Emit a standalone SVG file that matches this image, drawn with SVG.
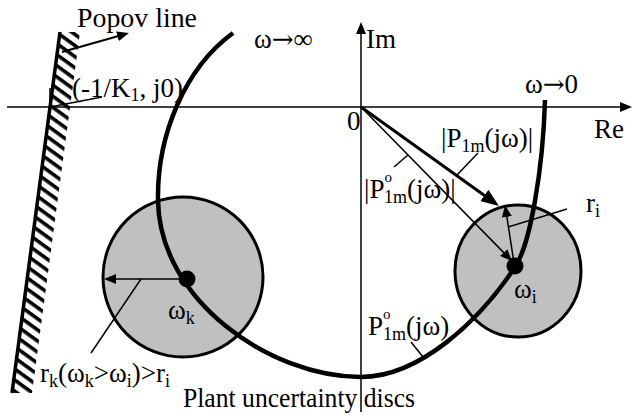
<svg xmlns="http://www.w3.org/2000/svg" width="633" height="418" viewBox="0 0 633 418">
<defs>
<style>
.t{font-family:"Liberation Serif","Times New Roman",serif;font-size:27px;fill:#000}
.s{font-size:18px}
.o{font-size:15px}
.ar{font-family:"DejaVu Serif",serif;font-size:26px}
.ln{stroke:#000;stroke-width:1.5;fill:none}
.disc{fill:#c0c0c0;stroke:#000;stroke-width:3}
</style>
<marker id="ah" markerUnits="userSpaceOnUse" viewBox="0 0 12 10" refX="3" refY="5" markerWidth="12" markerHeight="10" orient="auto"><path d="M0,0 L12,5 L0,10 z"/></marker>
<marker id="ahb" markerUnits="userSpaceOnUse" viewBox="0 0 18 14" refX="4" refY="7" markerWidth="18" markerHeight="14" orient="auto"><path d="M0,0 L18,7 L0,14 z"/></marker>
<pattern id="hatch" patternUnits="userSpaceOnUse" width="9" height="9" patternTransform="rotate(36)"><rect width="9" height="3.6" fill="#000"/></pattern>
</defs>
<rect width="633" height="418" fill="#fff"/>

<g id="popov-line">
<polygon points="60,32 80,32 32,393 12,393" fill="url(#hatch)"/>
<line x1="60" y1="32" x2="12" y2="393" stroke="#000" stroke-width="3.5"/>
</g>

<g id="axes">
<line class="ln" x1="7" y1="107" x2="623" y2="107" marker-end="url(#ah)"/>
<line class="ln" x1="361" y1="412" x2="361" y2="31" marker-end="url(#ah)"/>
</g>

<g id="disc-k"><circle class="disc" cx="183" cy="277" r="80"/></g>
<g id="disc-i"><ellipse class="disc" cx="518" cy="271" rx="63" ry="66"/></g>

<g id="nyquist-curve">
<path d="M233,33 C185,68 157,135 158,200 C159,300 270,377 361,377 C420,377 480,320 515,267 C530,245 543,170 545,100" fill="none" stroke="#000" stroke-width="4.5"/>
</g>

<g id="point-k"><circle cx="187" cy="279" r="8.5" fill="#000"/></g>
<g id="point-i"><circle cx="515" cy="266" r="8.5" fill="#000"/></g>

<g id="connectors">
<line x1="62" y1="52" x2="120.3" y2="35.5" stroke="#000" stroke-width="2" marker-end="url(#ah)"/>
<line class="ln" x1="50" y1="88" x2="50" y2="107"/>
<line class="ln" x1="50" y1="107" x2="102" y2="97"/>
<line x1="361" y1="107" x2="487.6" y2="197.8" stroke="#000" stroke-width="3" marker-end="url(#ahb)"/>
<line class="ln" x1="361" y1="107" x2="505.7" y2="254.6" marker-end="url(#ah)"/>
<line class="ln" x1="514" y1="263" x2="506.4" y2="213.9" marker-end="url(#ah)"/>
<line class="ln" x1="187" y1="279" x2="113" y2="279" marker-end="url(#ah)"/>
<line class="ln" x1="141" y1="279" x2="91" y2="353"/>
<line class="ln" x1="478" y1="153" x2="457" y2="175"/>
<line class="ln" x1="408" y1="155" x2="394" y2="167"/>
<line class="ln" x1="411" y1="342" x2="423" y2="357"/>
<line class="ln" x1="508" y1="227" x2="567" y2="209"/>
</g>

<g id="labels">
<text class="t" x="77" y="27" textLength="120" lengthAdjust="spacingAndGlyphs">Popov line</text>
<text class="t" x="72" y="97">(-1/K<tspan class="s" dy="4">1</tspan><tspan dy="-4">, j0)</tspan></text>
<text class="t" x="254" y="48">ω<tspan class="ar">→</tspan>∞</text>
<text class="t" x="366" y="48">Im</text>
<text class="t" x="347" y="130">0</text>
<text class="t" x="525" y="93">ω<tspan class="ar">→</tspan>0</text>
<text class="t" x="594" y="138">Re</text>
<text class="t" x="441" y="147">|P<tspan class="s" dy="5">1m</tspan><tspan dy="-5">(jω)|</tspan></text>
<text class="t" x="364" y="198">|P<tspan class="o" dy="-16">o</tspan><tspan class="s" x="384" dy="21">1m</tspan><tspan dy="-5">(jω)|</tspan></text>
<text class="t" x="368" y="335">P<tspan class="o" dy="-16">o</tspan><tspan class="s" x="383" dy="21">1m</tspan><tspan dy="-5">(jω)</tspan></text>
<text class="t" x="168" y="319">ω<tspan class="s" dy="5">k</tspan></text>
<text class="t" x="514" y="298">ω<tspan class="s" dy="5">i</tspan></text>
<text class="t" x="586" y="212">r<tspan class="s" dy="5">i</tspan></text>
<text class="t" x="40" y="382">r<tspan class="s" dy="5">k</tspan><tspan dy="-5">(ω</tspan><tspan class="s" dy="5">k</tspan><tspan dy="-5">&gt;ω</tspan><tspan class="s" dy="5">i</tspan><tspan dy="-5">)&gt;r</tspan><tspan class="s" dy="5">i</tspan></text>
<text class="t" x="183" y="407" textLength="232" lengthAdjust="spacingAndGlyphs">Plant uncertainty discs</text>
</g>
</svg>
